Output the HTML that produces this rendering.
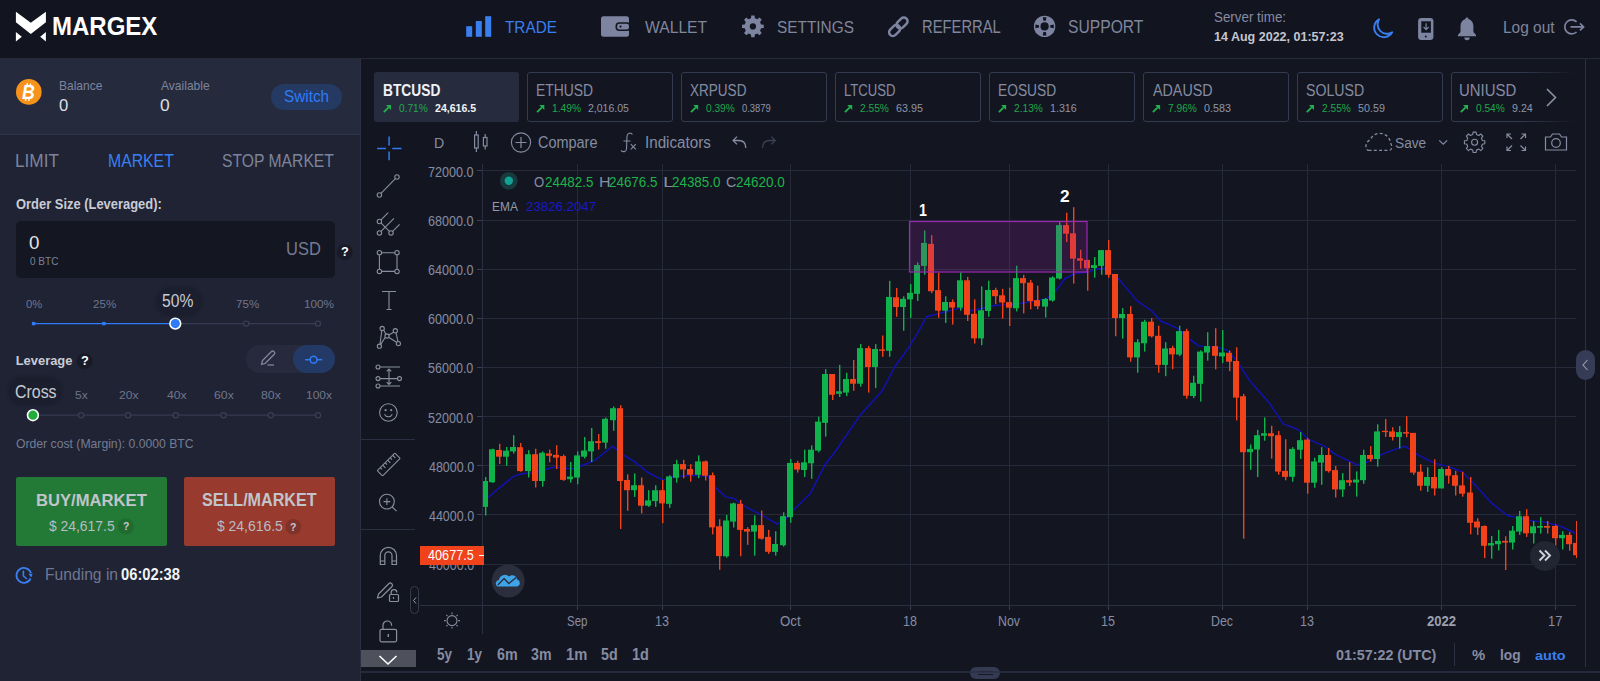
<!DOCTYPE html>
<html><head><meta charset="utf-8"><title>Margex</title><style>
*{margin:0;padding:0;box-sizing:border-box}
html,body{width:1600px;height:681px;overflow:hidden;background:#131621;font-family:"Liberation Sans",Arial,sans-serif}
.a{position:absolute}
.t{position:absolute;white-space:nowrap;line-height:1;transform-origin:0 0}
svg{position:absolute;left:0;top:0}
</style></head><body>
<div class="a" style="left:0px;top:0px;width:1600px;height:58px;background:#121420;"></div><div class="a" style="left:0px;top:58px;width:1600px;height:1px;background:#252a3b;"></div><div class="a" style="left:0px;top:59px;width:360px;height:75px;background:#252a3c;"></div><div class="a" style="left:0px;top:134px;width:360px;height:1px;background:#30364a;"></div><div class="a" style="left:0px;top:135px;width:360px;height:546px;background:#1f2334;"></div><div class="a" style="left:360px;top:59px;width:1px;height:622px;background:#2a2f42;"></div><div class="a" style="left:361px;top:59px;width:1239px;height:622px;background:#131621;"></div><div class="a" style="left:271.4px;top:83.5px;width:70.6px;height:26.4px;border-radius:13.2px;background:#243a63"></div><div class="a" style="left:16px;top:220.5px;width:319px;height:57.5px;border-radius:5px;background:#141621"></div><div class="a" style="left:157px;top:287.5px;width:44px;height:27px;border-radius:13.5px;background:#1b1e2d;box-shadow:0 0 3px 1px #1b1e2d"></div><div class="a" style="left:246.2px;top:344.9px;width:88.7px;height:28.2px;border-radius:14.1px;background:#262a3c"></div><div class="a" style="left:292.8px;top:344.9px;width:42.1px;height:28.2px;border-radius:14.1px;background:#243a66"></div><div class="a" style="left:9px;top:378px;width:52px;height:26px;border-radius:13px;background:#1b1e2d;box-shadow:0 0 3px 1px #1b1e2d"></div><div class="a" style="left:16.2px;top:477.2px;width:150.5px;height:68.7px;border-radius:2px;background:#237a36"></div><div class="a" style="left:183.8px;top:477.4px;width:151.2px;height:68.7px;border-radius:2px;background:#983a2d"></div><div class="a" style="left:374px;top:72px;width:145px;height:50px;border-radius:3px;background:#262b3e"></div><div class="a" style="left:526.8px;top:71.8px;width:146px;height:50.7px;border-radius:3px;border:1px solid #343a4f;background:#131621"></div><div class="a" style="left:680.75px;top:71.8px;width:146px;height:50.7px;border-radius:3px;border:1px solid #343a4f;background:#131621"></div><div class="a" style="left:834.6999999999999px;top:71.8px;width:146px;height:50.7px;border-radius:3px;border:1px solid #343a4f;background:#131621"></div><div class="a" style="left:988.6499999999999px;top:71.8px;width:146px;height:50.7px;border-radius:3px;border:1px solid #343a4f;background:#131621"></div><div class="a" style="left:1142.6px;top:71.8px;width:146px;height:50.7px;border-radius:3px;border:1px solid #343a4f;background:#131621"></div><div class="a" style="left:1296.55px;top:71.8px;width:146px;height:50.7px;border-radius:3px;border:1px solid #343a4f;background:#131621"></div><div class="a" style="left:1450.5px;top:71.8px;width:132px;height:50.7px;border-radius:3px;border:1px solid #343a4f;background:#131621"></div><div class="a" style="left:1520px;top:66px;width:65px;height:60px;background:linear-gradient(90deg,rgba(19,22,33,0),#131621 85%)"></div><div class="a" style="left:1585px;top:59px;width:1px;height:608px;background:#2a2f42;"></div><div class="a" style="left:361px;top:439px;width:54px;height:1px;background:#2a2f42;"></div><div class="a" style="left:361px;top:529px;width:54px;height:1px;background:#2a2f42;"></div><div class="a" style="left:361px;top:649.7px;width:54.8px;height:17.1px;background:#4e515c;"></div><div class="a" style="left:410px;top:586px;width:9px;height:28px;border-radius:4.5px;border:1px solid #363b4c"></div><div class="a" style="left:1454px;top:643px;width:1px;height:23px;background:#2b3043;"></div><div class="a" style="left:1575.5px;top:350px;width:19px;height:30px;border-radius:9.5px;background:#363c55"></div><div class="a" style="left:970px;top:666.6px;width:30.3px;height:12.2px;border-radius:6px;background:#333a52"></div><div class="a" style="left:978px;top:670.5px;width:15px;height:1.3px;background:#151826;"></div><div class="a" style="left:978px;top:673.8px;width:15px;height:1.3px;background:#151826;"></div>
<svg width="1600" height="681" viewBox="0 0 1600 681"><defs><radialGradient id="sh"><stop offset="0" stop-color="#181b29" stop-opacity="1"/><stop offset="0.6" stop-color="#181b29" stop-opacity="0.8"/><stop offset="1" stop-color="#181b29" stop-opacity="0"/></radialGradient></defs><polygon points="15.9,11.7 30.8,22.8 45.9,11.7 45.9,22.3 30.8,34 15.9,22.3" fill="#fff"/><polygon points="15.9,31.9 21.8,36.7 15.9,41.4" fill="#fff"/><polygon points="45.9,31.9 40.2,36.7 45.9,41.4" fill="#fff"/><rect x="466.2" y="26.2" width="6" height="10.6" fill="#3a7ff0"/><rect x="475.8" y="21" width="6" height="15.8" fill="#3a7ff0"/><rect x="485.2" y="16.2" width="6" height="20.6" fill="#3a7ff0"/><rect x="601" y="16.2" width="28" height="20.6" rx="2.5" fill="#7d849f"/><rect x="616.3" y="23" width="13.5" height="7.3" rx="3" fill="#7d849f" stroke="#121420" stroke-width="1.6"/><circle cx="620.5" cy="26.6" r="1.1" fill="#121420"/><polygon points="751.26,15.52 754.54,15.52 754.86,18.23 757.29,19.24 759.44,17.55 761.75,19.86 760.06,22.01 761.07,24.44 763.78,24.76 763.78,28.04 761.07,28.36 760.06,30.79 761.75,32.94 759.44,35.25 757.29,33.56 754.86,34.57 754.54,37.28 751.26,37.28 750.94,34.57 748.51,33.56 746.36,35.25 744.05,32.94 745.74,30.79 744.73,28.36 742.02,28.04 742.02,24.76 744.73,24.44 745.74,22.01 744.05,19.86 746.36,17.55 748.51,19.24 750.94,18.23" fill="#7d849f" stroke-linejoin="round"/><circle cx="752.9" cy="26.4" r="3.1" fill="#121420"/><g transform="rotate(-45 898.4 26.7)" fill="none" stroke="#7d849f" stroke-width="2.5"><rect x="897.3" y="22.95" width="12.5" height="7.5" rx="3.75"/><rect x="886.8" y="22.95" width="12.5" height="7.5" rx="3.75"/></g><circle cx="1044.6" cy="26.4" r="10.7" fill="#7d849f"/><circle cx="1044.6" cy="26.4" r="4.1" fill="#121420"/><polygon points="1046.50,17.20 1042.70,17.20 1043.40,20.80 1045.80,20.80" fill="#121420"/><polygon points="1053.80,28.30 1053.80,24.50 1050.20,25.20 1050.20,27.60" fill="#121420"/><polygon points="1042.70,35.60 1046.50,35.60 1045.80,32.00 1043.40,32.00" fill="#121420"/><polygon points="1035.40,24.50 1035.40,28.30 1039.00,27.60 1039.00,25.20" fill="#121420"/><path d="M1379,19.3 A9.6,9.6 0 1 0 1392.2,32.3 A9.5,9.5 0 0 1 1379,19.3 Z" fill="none" stroke="#3a7ff0" stroke-width="1.9" stroke-linejoin="round"/><rect x="1418.1" y="18.1" width="15.3" height="21.9" rx="3.2" fill="#7d849f"/><rect x="1421.3" y="21.3" width="9.6" height="11.4" fill="#121420"/><circle cx="1425.8" cy="36.4" r="1" fill="#121420"/><path d="M1426.1,23.2 v6 M1423.6,27 l2.5,2.6 l2.5,-2.6" stroke="#7d849f" stroke-width="1.2" fill="none"/><path d="M1467,17.5 c0.9,0 1.4,0.6 1.4,1.4 c3.3,1 5,3.8 5,7.4 v5.6 l2.6,3.2 v1.1 h-18.1 v-1.1 l2.6,-3.2 v-5.6 c0,-3.6 1.7,-6.4 5,-7.4 c0,-0.8 0.5,-1.4 1.5,-1.4 z" fill="#7d849f"/><path d="M1464.3,37.6 a2.7,2.7 0 0 0 5.4,0 z" fill="#7d849f"/><path d="M1576.6,21.8 A7,7 0 1 0 1576.6,32" fill="none" stroke="#7d849f" stroke-width="1.7"/><path d="M1570.5,26.9 h13 M1580,23.4 l3.6,3.5 l-3.6,3.5" fill="none" stroke="#7d849f" stroke-width="1.7"/><circle cx="28.8" cy="91.9" r="12.8" fill="#f7931a"/><path d="M27.4,83.2 l-0.5,2.6 M30.6,83.6 l-0.5,2.4 M26,98.2 l-0.5,2.6 M29.2,98.4 l-0.5,2.4" stroke="#fff" stroke-width="1.4"/><circle cx="344.7" cy="252.2" r="8" fill="#181b27"/><line x1="181" y1="323.6" x2="318" y2="323.6" stroke="#363b51" stroke-width="1.3"/><line x1="33.6" y1="323.6" x2="175" y2="323.6" stroke="#2f7bf7" stroke-width="1.3"/><rect x="31.9" y="321.9" width="3.4" height="3.4" fill="#2f7bf7"/><rect x="102.2" y="321.9" width="3.4" height="3.4" fill="#2f7bf7"/><circle cx="246.2" cy="323.6" r="2.6" fill="#1f2334" stroke="#3a3f55" stroke-width="1.2"/><circle cx="317.9" cy="323.6" r="2.6" fill="#1f2334" stroke="#3a3f55" stroke-width="1.2"/><circle cx="175.3" cy="323.6" r="5.4" fill="#2f7bf7" stroke="#ffffff" stroke-width="1.6"/><circle cx="84.6" cy="361.1" r="8" fill="#181b27"/><path d="M261.5,364.5 l1,-4 l9,-9 a1.5,1.5 0 0 1 2.2,0 l0.6,0.6 a1.5,1.5 0 0 1 0,2.2 l-9,9 z" fill="none" stroke="#80869c" stroke-width="1.3" stroke-linejoin="round"/><line x1="267.5" y1="365" x2="274" y2="365" stroke="#80869c" stroke-width="1.3"/><line x1="305.1" y1="359.7" x2="322.2" y2="359.7" stroke="#2f7bf7" stroke-width="1.5"/><circle cx="313.6" cy="359.7" r="3.4" fill="#243a66" stroke="#2f7bf7" stroke-width="1.5"/><line x1="33" y1="415.2" x2="318" y2="415.2" stroke="#363b51" stroke-width="1.3"/><circle cx="81.1" cy="415.2" r="2.6" fill="#1f2334" stroke="#3a3f55" stroke-width="1.2"/><circle cx="128.1" cy="415.2" r="2.6" fill="#1f2334" stroke="#3a3f55" stroke-width="1.2"/><circle cx="175.7" cy="415.2" r="2.6" fill="#1f2334" stroke="#3a3f55" stroke-width="1.2"/><circle cx="223.5" cy="415.2" r="2.6" fill="#1f2334" stroke="#3a3f55" stroke-width="1.2"/><circle cx="270.8" cy="415.2" r="2.6" fill="#1f2334" stroke="#3a3f55" stroke-width="1.2"/><circle cx="318" cy="415.2" r="2.6" fill="#1f2334" stroke="#3a3f55" stroke-width="1.2"/><circle cx="32.9" cy="415.2" r="5.4" fill="#21ac3c" stroke="#ffffff" stroke-width="1.6"/><circle cx="125.9" cy="526.5" r="8" fill="#1f6b30"/><circle cx="293.4" cy="526.7" r="7.8" fill="#7f3227"/><path d="M30.6,578.5 A7.4,7.4 0 1 1 30.9,573" fill="none" stroke="#3a7ff0" stroke-width="1.8"/><path d="M23.4,570.5 v5.5 l3.5,3" fill="none" stroke="#3a7ff0" stroke-width="1.6"/><path d="M28.5,573.8 l4.2,0 l-1.6,3.6 z" fill="#3a7ff0"/><path d="M383.8,112.2 l4.8,-4.8" stroke="#22b14c" stroke-width="1.9" fill="none"/><polygon points="386.0,105.1 391.0,105.1 391.0,110.1" fill="#22b14c"/><path d="M537.1,112.2 l4.8,-4.8" stroke="#22b14c" stroke-width="1.9" fill="none"/><polygon points="539.3,105.1 544.3,105.1 544.3,110.1" fill="#22b14c"/><path d="M691.0,112.2 l4.8,-4.8" stroke="#22b14c" stroke-width="1.9" fill="none"/><polygon points="693.2,105.1 698.2,105.1 698.2,110.1" fill="#22b14c"/><path d="M845.0,112.2 l4.8,-4.8" stroke="#22b14c" stroke-width="1.9" fill="none"/><polygon points="847.2,105.1 852.2,105.1 852.2,110.1" fill="#22b14c"/><path d="M998.9,112.2 l4.8,-4.8" stroke="#22b14c" stroke-width="1.9" fill="none"/><polygon points="1001.1,105.1 1006.1,105.1 1006.1,110.1" fill="#22b14c"/><path d="M1152.9,112.2 l4.8,-4.8" stroke="#22b14c" stroke-width="1.9" fill="none"/><polygon points="1155.1,105.1 1160.1,105.1 1160.1,110.1" fill="#22b14c"/><path d="M1306.8,112.2 l4.8,-4.8" stroke="#22b14c" stroke-width="1.9" fill="none"/><polygon points="1309.0,105.1 1314.0,105.1 1314.0,110.1" fill="#22b14c"/><path d="M1460.8,112.2 l4.8,-4.8" stroke="#22b14c" stroke-width="1.9" fill="none"/><polygon points="1463.0,105.1 1468.0,105.1 1468.0,110.1" fill="#22b14c"/><path d="M1547,89 l8.5,8.5 l-8.5,8.5" stroke="#8a90a5" stroke-width="1.6" fill="none"/><g stroke="#868ca2" stroke-width="1.2" fill="none"><rect x="474.6" y="135" width="3.6" height="13"/><line x1="476.4" y1="131" x2="476.4" y2="135"/><line x1="476.4" y1="148" x2="476.4" y2="152"/><rect x="483.4" y="137.5" width="3.6" height="8.5"/><line x1="485.2" y1="134" x2="485.2" y2="137.5"/><line x1="485.2" y1="146" x2="485.2" y2="149.5"/></g><circle cx="521" cy="142.5" r="9.6" fill="none" stroke="#868ca2" stroke-width="1.1"/><path d="M521,137 v11 M515.5,142.5 h11" stroke="#868ca2" stroke-width="1.2"/><path d="M632.5,134.5 c-1.5,-2 -5,-2 -5.5,1.5 l-0.5,13 c-0.3,3 -3.5,3.5 -5.5,1.3 M623.5,141 h7" stroke="#868ca2" stroke-width="1.1" fill="none"/><path d="M630.8,144.2 l5,5.2 M635.8,144.2 l-5,5.2" stroke="#868ca2" stroke-width="1.1"/><path d="M745.8,148 c0,-5 -2.5,-7.5 -7,-7.5 h-5.5 M737,136.6 l-3.9,3.9 l3.9,3.9" stroke="#868ca2" stroke-width="1.3" fill="none"/><path d="M762.5,148 c0,-5 2.5,-7.5 7,-7.5 h5.5 M771.3,136.6 l3.9,3.9 l-3.9,3.9" stroke="#3c4152" stroke-width="1.3" fill="none"/><path d="M1368.5,150.3 L1389.5,150.3 C1392,150.3 1392.5,146 1390.6,143.2 C1389.8,137 1385,133.3 1379.5,133.3 C1375,133.3 1372,136 1370.5,139.5 C1367.5,141 1365.6,144 1366,147 C1366.3,149 1367.3,150.3 1368.5,150.3 Z" fill="none" stroke="#868ca2" stroke-width="1.3" stroke-dasharray="3,2.3"/><path d="M1439.2,140.4 l4,3.7 l4,-3.7" stroke="#868ca2" stroke-width="1.2" fill="none"/><polygon points="1473.07,132.11 1476.13,132.11 1476.47,134.52 1478.78,135.48 1480.72,134.01 1482.89,136.18 1481.42,138.12 1482.38,140.43 1484.79,140.77 1484.79,143.83 1482.38,144.17 1481.42,146.48 1482.89,148.42 1480.72,150.59 1478.78,149.12 1476.47,150.08 1476.13,152.49 1473.07,152.49 1472.73,150.08 1470.42,149.12 1468.48,150.59 1466.31,148.42 1467.78,146.48 1466.82,144.17 1464.41,143.83 1464.41,140.77 1466.82,140.43 1467.78,138.12 1466.31,136.18 1468.48,134.01 1470.42,135.48 1472.73,134.52" fill="none" stroke="#868ca2" stroke-width="1.1" stroke-linejoin="round"/><circle cx="1474.6" cy="142.3" r="0" fill="#131621"/><circle cx="1474.6" cy="142.3" r="3" fill="none" stroke="#868ca2" stroke-width="1.1"/><g stroke="#868ca2" stroke-width="1.2" fill="none"><path d="M1507,134 l5,5 M1507,138 v-4 h4"/><path d="M1525.5,134 l-5,5 M1525.5,138 v-4 h-4"/><path d="M1507,150.5 l5,-5 M1507,146.5 v4 h4"/><path d="M1525.5,150.5 l-5,-5 M1525.5,146.5 v4 h-4"/></g><g stroke="#868ca2" stroke-width="1.2" fill="none"><path d="M1545.5,137 h5 l2,-3 h7 l2,3 h5 v13 h-21 z"/><circle cx="1556" cy="143" r="4.3"/></g><g stroke="#2f7bf7" stroke-width="1.5"><line x1="377.1" y1="148.5" x2="386" y2="148.5"/><line x1="392.3" y1="148.5" x2="401.5" y2="148.5"/><line x1="389.1" y1="136.5" x2="389.1" y2="145.5"/><line x1="389.1" y1="151.5" x2="389.1" y2="160.3"/></g><g stroke="#8a8f9f" stroke-width="1.1" fill="none"><circle cx="379.4" cy="195" r="2.2"/><circle cx="397" cy="177" r="2.2"/><line x1="381" y1="193.4" x2="395.4" y2="178.6"/><circle cx="379.4" cy="221.5" r="2.2"/><circle cx="379.4" cy="232.9" r="2.2"/><circle cx="391" cy="232.9" r="2.2"/><path d="M381,219.9 l7.2,-7.2 M381,231.3 l13,-13 M392.6,231.3 l7,-7 M380.9,222.9 l8.5,8.5"/><circle cx="379.4" cy="252.7" r="2.2"/><circle cx="397" cy="252.7" r="2.2"/><circle cx="379.4" cy="271.4" r="2.2"/><circle cx="397" cy="271.4" r="2.2"/><path d="M381.6,252.7 h13.2 M381.6,271.4 h13.2 M379.4,254.9 v14.3 M397,254.9 v14.3"/><path d="M382,291.5 h14 M389,291.5 v18 M386.5,309.5 h5"/><circle cx="382.2" cy="328.5" r="2.1"/><circle cx="395.3" cy="330.7" r="2.1"/><circle cx="387" cy="336" r="2.1"/><circle cx="398.4" cy="343.6" r="2.1"/><circle cx="379.4" cy="346.2" r="2.1"/><path d="M380,344.3 l1.8,-13.7 M383.7,330 l2.2,4.2 M388.7,335 l5,-2.8 M396,332.8 l2,8.8 M396.6,342.2 l-8,-5 M385.3,337.2 l-4.6,7.2"/><circle cx="378" cy="367" r="2"/><circle cx="378" cy="378.6" r="2"/><circle cx="399.5" cy="378.6" r="2"/><circle cx="378" cy="386" r="2"/><path d="M380,367 h20 M380,378.6 h17.5 M380,386 h20 M389,369 v15.5 M386.7,371.3 l2.3,-2.3 l2.3,2.3 M386.7,382.2 l2.3,2.3 l2.3,-2.3"/><circle cx="388.4" cy="412.5" r="8.8"/><path d="M384.5,414.3 a4.3,4.3 0 0 0 7.8,0"/></g><circle cx="385.6" cy="410.2" r="1.1" fill="#8a8f9f"/><circle cx="391.2" cy="410.2" r="1.1" fill="#8a8f9f"/><g stroke="#8a8f9f" stroke-width="1.1" fill="none"><g transform="rotate(-45 388.7 464.5)"><rect x="376.2" y="460.7" width="25" height="7.6" rx="0.8"/><path d="M380.5,460.7 v2.6 M384,460.7 v3.8 M387.5,460.7 v2.6 M391,460.7 v3.8 M394.5,460.7 v2.6 M398,460.7 v3.8"/></g><circle cx="386.9" cy="501.6" r="7.4"/><path d="M392.3,507 l4.2,4.2 M383.5,501.6 h6.8 M386.9,498.2 v6.8"/></g><g stroke="#8a8f9f" stroke-width="1.2" fill="none"><path d="M380.3,564.5 v-9 a8.1,8.1 0 0 1 16.2,0 v9 h-4.5 v-9 a3.6,3.6 0 0 0 -7.2,0 v9 z M380.3,561 h4.5 M392,561 h4.5"/><path d="M377.5,598 l1,-4 l10.5,-10.5 a1.8,1.8 0 0 1 2.5,0 l0.5,0.5 a1.8,1.8 0 0 1 0,2.5 l-10.5,10.5 z"/><rect x="389.5" y="594.5" width="9" height="7" rx="1"/><path d="M391.2,594.5 v-2 a2.8,2.8 0 0 1 5.6,0"/><rect x="380" y="629.3" width="16.6" height="12.5" rx="1.5"/><path d="M383,629.3 v-4 a4.3,4.3 0 0 1 8.6,0 v0.5"/></g><rect x="387.6" y="634" width="1.4" height="3" fill="#8a8f9f"/><rect x="392.9" y="597" width="1.2" height="1.8" fill="#8a8f9f"/><path d="M379.5,656 l8.5,8 l8.5,-8" stroke="#ffffff" stroke-width="1.6" fill="none"/><path d="M416,597.5 l-2.5,3 l2.5,3" stroke="#9aa0b0" stroke-width="1" fill="none"/><line x1="483" y1="170.5" x2="1576" y2="170.5" stroke="#262a3b" stroke-width="1"/><line x1="477" y1="170.5" x2="483" y2="170.5" stroke="#3a3f52" stroke-width="1"/><line x1="483" y1="220.5" x2="1576" y2="220.5" stroke="#262a3b" stroke-width="1"/><line x1="477" y1="220.5" x2="483" y2="220.5" stroke="#3a3f52" stroke-width="1"/><line x1="483" y1="269.5" x2="1576" y2="269.5" stroke="#262a3b" stroke-width="1"/><line x1="477" y1="269.5" x2="483" y2="269.5" stroke="#3a3f52" stroke-width="1"/><line x1="483" y1="318.5" x2="1576" y2="318.5" stroke="#262a3b" stroke-width="1"/><line x1="477" y1="318.5" x2="483" y2="318.5" stroke="#3a3f52" stroke-width="1"/><line x1="483" y1="367.5" x2="1576" y2="367.5" stroke="#262a3b" stroke-width="1"/><line x1="477" y1="367.5" x2="483" y2="367.5" stroke="#3a3f52" stroke-width="1"/><line x1="483" y1="416.5" x2="1576" y2="416.5" stroke="#262a3b" stroke-width="1"/><line x1="477" y1="416.5" x2="483" y2="416.5" stroke="#3a3f52" stroke-width="1"/><line x1="483" y1="465.5" x2="1576" y2="465.5" stroke="#262a3b" stroke-width="1"/><line x1="477" y1="465.5" x2="483" y2="465.5" stroke="#3a3f52" stroke-width="1"/><line x1="483" y1="514.5" x2="1576" y2="514.5" stroke="#262a3b" stroke-width="1"/><line x1="477" y1="514.5" x2="483" y2="514.5" stroke="#3a3f52" stroke-width="1"/><line x1="483" y1="564.5" x2="1576" y2="564.5" stroke="#262a3b" stroke-width="1"/><line x1="477" y1="564.5" x2="483" y2="564.5" stroke="#3a3f52" stroke-width="1"/><line x1="577.5" y1="164" x2="577.5" y2="605" stroke="#262a3b" stroke-width="1"/><line x1="577.5" y1="605" x2="577.5" y2="610" stroke="#3a3f52" stroke-width="1"/><line x1="662.5" y1="164" x2="662.5" y2="605" stroke="#262a3b" stroke-width="1"/><line x1="662.5" y1="605" x2="662.5" y2="610" stroke="#3a3f52" stroke-width="1"/><line x1="790.5" y1="164" x2="790.5" y2="605" stroke="#262a3b" stroke-width="1"/><line x1="790.5" y1="605" x2="790.5" y2="610" stroke="#3a3f52" stroke-width="1"/><line x1="910.5" y1="164" x2="910.5" y2="605" stroke="#262a3b" stroke-width="1"/><line x1="910.5" y1="605" x2="910.5" y2="610" stroke="#3a3f52" stroke-width="1"/><line x1="1009.5" y1="164" x2="1009.5" y2="605" stroke="#262a3b" stroke-width="1"/><line x1="1009.5" y1="605" x2="1009.5" y2="610" stroke="#3a3f52" stroke-width="1"/><line x1="1108.5" y1="164" x2="1108.5" y2="605" stroke="#262a3b" stroke-width="1"/><line x1="1108.5" y1="605" x2="1108.5" y2="610" stroke="#3a3f52" stroke-width="1"/><line x1="1222.5" y1="164" x2="1222.5" y2="605" stroke="#262a3b" stroke-width="1"/><line x1="1222.5" y1="605" x2="1222.5" y2="610" stroke="#3a3f52" stroke-width="1"/><line x1="1307.5" y1="164" x2="1307.5" y2="605" stroke="#262a3b" stroke-width="1"/><line x1="1307.5" y1="605" x2="1307.5" y2="610" stroke="#3a3f52" stroke-width="1"/><line x1="1441.5" y1="164" x2="1441.5" y2="605" stroke="#262a3b" stroke-width="1"/><line x1="1441.5" y1="605" x2="1441.5" y2="610" stroke="#3a3f52" stroke-width="1"/><line x1="1555.5" y1="164" x2="1555.5" y2="605" stroke="#262a3b" stroke-width="1"/><line x1="1555.5" y1="605" x2="1555.5" y2="610" stroke="#3a3f52" stroke-width="1"/><line x1="482.5" y1="164" x2="482.5" y2="634" stroke="#2b3043" stroke-width="1"/><line x1="420" y1="605.5" x2="1576" y2="605.5" stroke="#2b3043" stroke-width="1"/><line x1="361" y1="672" x2="1600" y2="672" stroke="#2b3146" stroke-width="1.5"/><polyline points="487.9,497.2 513.5,476.4 522.3,473.8 538.1,472 554,466.9 571.6,469 582.2,465.5 595,460.2 612.6,446.1 623.2,454.9 633.8,461.1 647.9,472.5 662.8,480.1 672.5,476.9 690.2,475.2 707.8,476.1 715.6,487.6 726.1,497.3 733.2,498.1 747.3,507.8 761.4,514.9 777.2,524.2 786.1,518.4 793.1,510.5 810.7,492.9 825,464.7 836.4,450 859.3,416.3 882.2,390.8 894.6,367 908.7,347.6 919.3,330 926.4,316.8 934.6,314.8 961.3,307.6 971.6,310.7 994.2,305.5 1015.8,304.2 1046.6,299 1054.9,291.8 1065.1,278.5 1075.4,273.3 1087.7,272.3 1095,269.4 1104.4,268.2 1118.5,278.8 1137.3,301.1 1151.4,310.5 1160.8,321 1177.2,328.1 1189,338.6 1198.3,345.7 1203.5,346.4 1215,346.9 1227,350 1236.4,360.5 1250.5,381.7 1269.2,402.8 1283.3,423.9 1290,426.4 1298.8,430 1307.6,438.8 1325.2,446.7 1335.8,454.6 1357,464.8 1365.8,462.6 1385.2,452.9 1399.3,447.9 1405.4,446.2 1417.9,454.9 1433.8,462.9 1447.9,466.4 1462,471.7 1474.3,484 1491.9,503.4 1507.8,515.7 1515.5,517.1 1530,520.4 1545.9,522.4 1559.1,525.7 1575,533" fill="none" stroke="#1111b4" stroke-width="1.45" stroke-linejoin="round"/><defs><clipPath id="pc"><rect x="483" y="160" width="1094" height="446"/></clipPath></defs><g clip-path="url(#pc)"><rect x="485" y="477.0" width="1.4" height="38.5" fill="#10b24b"/><rect x="482" y="481.0" width="6" height="25.9" fill="#10b24b"/><rect x="492" y="448.7" width="1.4" height="34.3" fill="#10b24b"/><rect x="489" y="449.3" width="6" height="32.9" fill="#10b24b"/><rect x="499" y="443.8" width="1.4" height="20.2" fill="#f1421a"/><rect x="496" y="450.0" width="6" height="6.7" fill="#f1421a"/><rect x="506" y="447.0" width="1.4" height="18.8" fill="#10b24b"/><rect x="503" y="450.7" width="6" height="6.0" fill="#10b24b"/><rect x="513" y="435.2" width="1.4" height="18.3" fill="#10b24b"/><rect x="510" y="447.0" width="6" height="4.4" fill="#10b24b"/><rect x="520" y="443.0" width="1.4" height="28.7" fill="#f1421a"/><rect x="517" y="447.2" width="6" height="23.9" fill="#f1421a"/><rect x="528" y="450.2" width="1.4" height="27.3" fill="#10b24b"/><rect x="525" y="454.2" width="6" height="16.9" fill="#10b24b"/><rect x="535" y="448.7" width="1.4" height="38.8" fill="#f1421a"/><rect x="532" y="454.2" width="6" height="26.8" fill="#f1421a"/><rect x="542" y="451.4" width="1.4" height="35.2" fill="#10b24b"/><rect x="539" y="452.8" width="6" height="28.2" fill="#10b24b"/><rect x="549" y="449.6" width="1.4" height="12.7" fill="#f1421a"/><rect x="546" y="453.5" width="6" height="2.3" fill="#f1421a"/><rect x="556" y="445.2" width="1.4" height="23.8" fill="#f1421a"/><rect x="553" y="454.9" width="6" height="2.7" fill="#f1421a"/><rect x="563" y="454.6" width="1.4" height="26.2" fill="#f1421a"/><rect x="560" y="456.1" width="6" height="23.8" fill="#f1421a"/><rect x="570" y="462.0" width="1.4" height="20.6" fill="#10b24b"/><rect x="567" y="476.6" width="6" height="2.6" fill="#10b24b"/><rect x="577" y="451.4" width="1.4" height="32.9" fill="#10b24b"/><rect x="574" y="455.4" width="6" height="22.1" fill="#10b24b"/><rect x="584" y="437.0" width="1.4" height="21.4" fill="#10b24b"/><rect x="581" y="450.5" width="6" height="6.2" fill="#10b24b"/><rect x="591" y="428.0" width="1.4" height="34.0" fill="#10b24b"/><rect x="588" y="441.2" width="6" height="10.2" fill="#10b24b"/><rect x="598" y="434.0" width="1.4" height="15.6" fill="#f1421a"/><rect x="595" y="441.2" width="6" height="1.8" fill="#f1421a"/><rect x="605" y="417.6" width="1.4" height="31.1" fill="#10b24b"/><rect x="602" y="418.8" width="6" height="23.8" fill="#10b24b"/><rect x="613" y="406.5" width="1.4" height="24.3" fill="#10b24b"/><rect x="610" y="408.2" width="6" height="12.0" fill="#10b24b"/><rect x="620" y="405.2" width="1.4" height="123.8" fill="#f1421a"/><rect x="617" y="408.2" width="6" height="72.8" fill="#f1421a"/><rect x="627" y="474.3" width="1.4" height="36.5" fill="#f1421a"/><rect x="624" y="480.0" width="6" height="10.2" fill="#f1421a"/><rect x="634" y="473.4" width="1.4" height="23.5" fill="#10b24b"/><rect x="631" y="485.2" width="6" height="5.0" fill="#10b24b"/><rect x="641" y="477.5" width="1.4" height="36.0" fill="#f1421a"/><rect x="638" y="485.2" width="6" height="20.5" fill="#f1421a"/><rect x="648" y="490.2" width="1.4" height="16.7" fill="#10b24b"/><rect x="645" y="500.4" width="6" height="5.3" fill="#10b24b"/><rect x="655" y="485.2" width="1.4" height="21.7" fill="#10b24b"/><rect x="652" y="490.2" width="6" height="10.9" fill="#10b24b"/><rect x="662" y="480.0" width="1.4" height="43.2" fill="#f1421a"/><rect x="659" y="490.2" width="6" height="13.2" fill="#f1421a"/><rect x="669" y="475.2" width="1.4" height="32.6" fill="#10b24b"/><rect x="666" y="476.4" width="6" height="27.5" fill="#10b24b"/><rect x="676" y="459.8" width="1.4" height="22.8" fill="#10b24b"/><rect x="673" y="464.1" width="6" height="13.7" fill="#10b24b"/><rect x="683" y="459.8" width="1.4" height="18.4" fill="#f1421a"/><rect x="680" y="464.1" width="6" height="5.4" fill="#f1421a"/><rect x="690" y="464.2" width="1.4" height="17.5" fill="#f1421a"/><rect x="687" y="469.0" width="6" height="5.8" fill="#f1421a"/><rect x="698" y="455.4" width="1.4" height="22.8" fill="#10b24b"/><rect x="695" y="461.4" width="6" height="13.4" fill="#10b24b"/><rect x="705" y="460.5" width="1.4" height="20.0" fill="#f1421a"/><rect x="702" y="461.4" width="6" height="14.3" fill="#f1421a"/><rect x="712" y="472.5" width="1.4" height="61.8" fill="#f1421a"/><rect x="709" y="475.2" width="6" height="52.2" fill="#f1421a"/><rect x="719" y="519.3" width="1.4" height="50.5" fill="#f1421a"/><rect x="716" y="526.3" width="6" height="29.8" fill="#f1421a"/><rect x="726" y="514.9" width="1.4" height="42.8" fill="#10b24b"/><rect x="723" y="520.5" width="6" height="35.8" fill="#10b24b"/><rect x="733" y="502.6" width="1.4" height="25.0" fill="#10b24b"/><rect x="730" y="503.4" width="6" height="18.2" fill="#10b24b"/><rect x="740" y="499.9" width="1.4" height="56.3" fill="#f1421a"/><rect x="737" y="503.8" width="6" height="26.1" fill="#f1421a"/><rect x="747" y="527.2" width="1.4" height="17.6" fill="#f1421a"/><rect x="744" y="529.0" width="6" height="2.6" fill="#f1421a"/><rect x="754" y="515.4" width="1.4" height="40.2" fill="#10b24b"/><rect x="751" y="525.1" width="6" height="6.5" fill="#10b24b"/><rect x="761" y="510.5" width="1.4" height="29.1" fill="#f1421a"/><rect x="758" y="525.1" width="6" height="13.6" fill="#f1421a"/><rect x="768" y="529.9" width="1.4" height="24.0" fill="#f1421a"/><rect x="765" y="536.9" width="6" height="14.9" fill="#f1421a"/><rect x="775" y="531.3" width="1.4" height="24.3" fill="#10b24b"/><rect x="772" y="544.0" width="6" height="7.9" fill="#10b24b"/><rect x="783" y="512.2" width="1.4" height="34.4" fill="#10b24b"/><rect x="780" y="516.1" width="6" height="29.1" fill="#10b24b"/><rect x="790" y="459.0" width="1.4" height="63.8" fill="#10b24b"/><rect x="787" y="462.9" width="6" height="54.3" fill="#10b24b"/><rect x="797" y="460.8" width="1.4" height="11.8" fill="#f1421a"/><rect x="794" y="462.9" width="6" height="6.7" fill="#f1421a"/><rect x="804" y="449.7" width="1.4" height="27.3" fill="#10b24b"/><rect x="801" y="462.4" width="6" height="7.6" fill="#10b24b"/><rect x="811" y="445.3" width="1.4" height="33.5" fill="#10b24b"/><rect x="808" y="449.7" width="6" height="13.6" fill="#10b24b"/><rect x="818" y="416.7" width="1.4" height="35.6" fill="#10b24b"/><rect x="815" y="421.6" width="6" height="29.0" fill="#10b24b"/><rect x="825" y="369.1" width="1.4" height="67.5" fill="#10b24b"/><rect x="822" y="374.0" width="6" height="48.9" fill="#10b24b"/><rect x="832" y="374.0" width="1.4" height="26.0" fill="#f1421a"/><rect x="829" y="374.0" width="6" height="20.8" fill="#f1421a"/><rect x="839" y="364.9" width="1.4" height="32.1" fill="#10b24b"/><rect x="836" y="391.3" width="6" height="2.5" fill="#10b24b"/><rect x="846" y="372.8" width="1.4" height="23.3" fill="#10b24b"/><rect x="843" y="379.0" width="6" height="13.6" fill="#10b24b"/><rect x="853" y="360.0" width="1.4" height="30.8" fill="#f1421a"/><rect x="850" y="379.0" width="6" height="4.7" fill="#f1421a"/><rect x="860" y="344.1" width="1.4" height="42.6" fill="#10b24b"/><rect x="857" y="348.1" width="6" height="35.6" fill="#10b24b"/><rect x="868" y="345.9" width="1.4" height="46.7" fill="#f1421a"/><rect x="865" y="348.1" width="6" height="18.9" fill="#f1421a"/><rect x="875" y="344.1" width="1.4" height="44.0" fill="#10b24b"/><rect x="872" y="349.0" width="6" height="18.0" fill="#10b24b"/><rect x="882" y="335.5" width="1.4" height="21.3" fill="#f1421a"/><rect x="879" y="349.4" width="6" height="1.4" fill="#f1421a"/><rect x="889" y="280.9" width="1.4" height="75.9" fill="#10b24b"/><rect x="886" y="296.9" width="6" height="53.9" fill="#10b24b"/><rect x="896" y="288.0" width="1.4" height="28.8" fill="#f1421a"/><rect x="893" y="297.3" width="6" height="9.7" fill="#f1421a"/><rect x="903" y="296.3" width="1.4" height="34.5" fill="#10b24b"/><rect x="900" y="298.8" width="6" height="8.2" fill="#10b24b"/><rect x="910" y="284.0" width="1.4" height="33.9" fill="#10b24b"/><rect x="907" y="292.8" width="6" height="6.6" fill="#10b24b"/><rect x="917" y="262.4" width="1.4" height="38.6" fill="#10b24b"/><rect x="914" y="265.0" width="6" height="28.8" fill="#10b24b"/><rect x="924" y="230.5" width="1.4" height="44.2" fill="#10b24b"/><rect x="921" y="242.9" width="6" height="23.0" fill="#10b24b"/><rect x="931" y="235.1" width="1.4" height="58.1" fill="#f1421a"/><rect x="928" y="243.9" width="6" height="47.3" fill="#f1421a"/><rect x="938" y="272.7" width="1.4" height="45.2" fill="#f1421a"/><rect x="935" y="290.1" width="6" height="20.6" fill="#f1421a"/><rect x="945" y="296.3" width="1.4" height="26.7" fill="#10b24b"/><rect x="942" y="302.0" width="6" height="8.7" fill="#10b24b"/><rect x="952" y="299.4" width="1.4" height="25.2" fill="#f1421a"/><rect x="949" y="302.0" width="6" height="5.6" fill="#f1421a"/><rect x="960" y="272.3" width="1.4" height="38.4" fill="#10b24b"/><rect x="957" y="280.3" width="6" height="27.3" fill="#10b24b"/><rect x="967" y="276.8" width="1.4" height="44.2" fill="#f1421a"/><rect x="964" y="280.3" width="6" height="34.5" fill="#f1421a"/><rect x="974" y="299.4" width="1.4" height="44.1" fill="#f1421a"/><rect x="971" y="313.8" width="6" height="24.6" fill="#f1421a"/><rect x="981" y="286.4" width="1.4" height="58.8" fill="#10b24b"/><rect x="978" y="310.3" width="6" height="28.1" fill="#10b24b"/><rect x="988" y="280.7" width="1.4" height="36.0" fill="#10b24b"/><rect x="985" y="290.0" width="6" height="21.0" fill="#10b24b"/><rect x="995" y="287.7" width="1.4" height="16.5" fill="#f1421a"/><rect x="992" y="290.0" width="6" height="6.2" fill="#f1421a"/><rect x="1002" y="288.8" width="1.4" height="29.8" fill="#f1421a"/><rect x="999" y="295.3" width="6" height="7.2" fill="#f1421a"/><rect x="1009" y="287.7" width="1.4" height="38.3" fill="#f1421a"/><rect x="1006" y="302.1" width="6" height="5.6" fill="#f1421a"/><rect x="1016" y="265.7" width="1.4" height="45.7" fill="#10b24b"/><rect x="1013" y="278.1" width="6" height="30.2" fill="#10b24b"/><rect x="1023" y="274.8" width="1.4" height="38.6" fill="#f1421a"/><rect x="1020" y="278.1" width="6" height="5.1" fill="#f1421a"/><rect x="1030" y="279.9" width="1.4" height="29.4" fill="#f1421a"/><rect x="1027" y="282.6" width="6" height="18.5" fill="#f1421a"/><rect x="1037" y="285.7" width="1.4" height="23.6" fill="#f1421a"/><rect x="1034" y="300.1" width="6" height="6.1" fill="#f1421a"/><rect x="1045" y="298.0" width="1.4" height="19.5" fill="#10b24b"/><rect x="1042" y="299.0" width="6" height="7.6" fill="#10b24b"/><rect x="1052" y="276.4" width="1.4" height="25.3" fill="#10b24b"/><rect x="1049" y="277.5" width="6" height="23.0" fill="#10b24b"/><rect x="1059" y="222.0" width="1.4" height="57.5" fill="#10b24b"/><rect x="1056" y="225.1" width="6" height="53.4" fill="#10b24b"/><rect x="1066" y="212.7" width="1.4" height="29.4" fill="#f1421a"/><rect x="1063" y="225.1" width="6" height="8.6" fill="#f1421a"/><rect x="1073" y="207.2" width="1.4" height="76.4" fill="#f1421a"/><rect x="1070" y="233.3" width="6" height="25.3" fill="#f1421a"/><rect x="1080" y="249.7" width="1.4" height="19.0" fill="#f1421a"/><rect x="1077" y="258.3" width="6" height="2.4" fill="#f1421a"/><rect x="1087" y="259.9" width="1.4" height="30.9" fill="#f1421a"/><rect x="1084" y="259.9" width="6" height="8.3" fill="#f1421a"/><rect x="1094" y="257.0" width="1.4" height="20.7" fill="#10b24b"/><rect x="1091" y="265.1" width="6" height="2.9" fill="#10b24b"/><rect x="1101" y="250.1" width="1.4" height="24.7" fill="#10b24b"/><rect x="1098" y="250.1" width="6" height="15.8" fill="#10b24b"/><rect x="1108" y="240.0" width="1.4" height="37.8" fill="#f1421a"/><rect x="1105" y="250.1" width="6" height="24.7" fill="#f1421a"/><rect x="1115" y="274.0" width="1.4" height="62.3" fill="#f1421a"/><rect x="1112" y="274.0" width="6" height="44.0" fill="#f1421a"/><rect x="1122" y="308.1" width="1.4" height="30.5" fill="#10b24b"/><rect x="1119" y="314.0" width="6" height="4.0" fill="#10b24b"/><rect x="1130" y="306.2" width="1.4" height="55.5" fill="#f1421a"/><rect x="1127" y="314.0" width="6" height="43.4" fill="#f1421a"/><rect x="1137" y="339.1" width="1.4" height="33.6" fill="#10b24b"/><rect x="1134" y="342.2" width="6" height="15.2" fill="#10b24b"/><rect x="1144" y="319.8" width="1.4" height="31.8" fill="#10b24b"/><rect x="1141" y="321.7" width="6" height="21.6" fill="#10b24b"/><rect x="1151" y="318.0" width="1.4" height="19.5" fill="#f1421a"/><rect x="1148" y="321.7" width="6" height="14.6" fill="#f1421a"/><rect x="1158" y="325.7" width="1.4" height="47.0" fill="#f1421a"/><rect x="1155" y="335.8" width="6" height="29.1" fill="#f1421a"/><rect x="1165" y="342.2" width="1.4" height="34.0" fill="#10b24b"/><rect x="1162" y="348.5" width="6" height="16.4" fill="#10b24b"/><rect x="1172" y="345.7" width="1.4" height="23.5" fill="#f1421a"/><rect x="1169" y="348.0" width="6" height="6.4" fill="#f1421a"/><rect x="1179" y="325.7" width="1.4" height="30.5" fill="#10b24b"/><rect x="1176" y="331.1" width="6" height="23.5" fill="#10b24b"/><rect x="1186" y="328.8" width="1.4" height="69.9" fill="#f1421a"/><rect x="1183" y="331.1" width="6" height="64.6" fill="#f1421a"/><rect x="1193" y="375.7" width="1.4" height="22.4" fill="#10b24b"/><rect x="1190" y="382.8" width="6" height="13.2" fill="#10b24b"/><rect x="1200" y="350.4" width="1.4" height="51.2" fill="#10b24b"/><rect x="1197" y="351.6" width="6" height="32.2" fill="#10b24b"/><rect x="1207" y="332.2" width="1.4" height="28.5" fill="#10b24b"/><rect x="1204" y="346.1" width="6" height="6.4" fill="#10b24b"/><rect x="1215" y="328.2" width="1.4" height="41.1" fill="#f1421a"/><rect x="1212" y="346.1" width="6" height="9.7" fill="#f1421a"/><rect x="1222" y="330.0" width="1.4" height="32.9" fill="#10b24b"/><rect x="1219" y="352.5" width="6" height="3.9" fill="#10b24b"/><rect x="1229" y="350.5" width="1.4" height="20.6" fill="#f1421a"/><rect x="1226" y="352.8" width="6" height="8.9" fill="#f1421a"/><rect x="1236" y="347.3" width="1.4" height="73.1" fill="#f1421a"/><rect x="1233" y="361.0" width="6" height="36.6" fill="#f1421a"/><rect x="1243" y="393.9" width="1.4" height="144.8" fill="#f1421a"/><rect x="1240" y="396.2" width="6" height="56.0" fill="#f1421a"/><rect x="1250" y="444.5" width="1.4" height="25.4" fill="#10b24b"/><rect x="1247" y="448.9" width="6" height="3.3" fill="#10b24b"/><rect x="1257" y="429.8" width="1.4" height="47.2" fill="#10b24b"/><rect x="1254" y="435.2" width="6" height="14.3" fill="#10b24b"/><rect x="1264" y="417.4" width="1.4" height="23.3" fill="#10b24b"/><rect x="1261" y="433.3" width="6" height="2.4" fill="#10b24b"/><rect x="1271" y="425.8" width="1.4" height="32.8" fill="#f1421a"/><rect x="1268" y="433.3" width="6" height="2.9" fill="#f1421a"/><rect x="1278" y="431.0" width="1.4" height="43.7" fill="#f1421a"/><rect x="1275" y="435.2" width="6" height="36.4" fill="#f1421a"/><rect x="1285" y="439.2" width="1.4" height="41.1" fill="#f1421a"/><rect x="1282" y="470.9" width="6" height="6.0" fill="#f1421a"/><rect x="1292" y="447.2" width="1.4" height="34.5" fill="#10b24b"/><rect x="1289" y="448.9" width="6" height="27.9" fill="#10b24b"/><rect x="1300" y="432.1" width="1.4" height="26.9" fill="#10b24b"/><rect x="1297" y="440.2" width="6" height="9.5" fill="#10b24b"/><rect x="1307" y="437.9" width="1.4" height="55.8" fill="#f1421a"/><rect x="1304" y="439.6" width="6" height="43.1" fill="#f1421a"/><rect x="1314" y="457.7" width="1.4" height="30.0" fill="#10b24b"/><rect x="1311" y="461.4" width="6" height="21.3" fill="#10b24b"/><rect x="1321" y="447.1" width="1.4" height="37.7" fill="#10b24b"/><rect x="1318" y="455.0" width="6" height="7.6" fill="#10b24b"/><rect x="1328" y="447.9" width="1.4" height="24.7" fill="#f1421a"/><rect x="1325" y="455.0" width="6" height="16.1" fill="#f1421a"/><rect x="1335" y="466.1" width="1.4" height="31.4" fill="#f1421a"/><rect x="1332" y="470.1" width="6" height="19.3" fill="#f1421a"/><rect x="1342" y="473.1" width="1.4" height="23.8" fill="#10b24b"/><rect x="1339" y="480.2" width="6" height="9.3" fill="#10b24b"/><rect x="1349" y="462.0" width="1.4" height="24.0" fill="#f1421a"/><rect x="1346" y="480.2" width="6" height="2.3" fill="#f1421a"/><rect x="1356" y="471.4" width="1.4" height="25.2" fill="#10b24b"/><rect x="1353" y="479.6" width="6" height="2.9" fill="#10b24b"/><rect x="1363" y="449.7" width="1.4" height="34.0" fill="#10b24b"/><rect x="1360" y="455.0" width="6" height="25.2" fill="#10b24b"/><rect x="1370" y="446.2" width="1.4" height="15.5" fill="#f1421a"/><rect x="1367" y="455.0" width="6" height="4.0" fill="#f1421a"/><rect x="1377" y="424.3" width="1.4" height="42.3" fill="#10b24b"/><rect x="1374" y="431.4" width="6" height="27.6" fill="#10b24b"/><rect x="1385" y="419.0" width="1.4" height="18.0" fill="#f1421a"/><rect x="1382" y="430.8" width="6" height="1.3" fill="#f1421a"/><rect x="1392" y="427.3" width="1.4" height="13.2" fill="#f1421a"/><rect x="1389" y="431.4" width="6" height="5.6" fill="#f1421a"/><rect x="1399" y="426.1" width="1.4" height="22.4" fill="#10b24b"/><rect x="1396" y="432.1" width="6" height="4.9" fill="#10b24b"/><rect x="1406" y="416.2" width="1.4" height="21.0" fill="#f1421a"/><rect x="1403" y="432.1" width="6" height="1.5" fill="#f1421a"/><rect x="1413" y="432.9" width="1.4" height="41.9" fill="#f1421a"/><rect x="1410" y="432.9" width="6" height="39.7" fill="#f1421a"/><rect x="1420" y="464.3" width="1.4" height="26.4" fill="#f1421a"/><rect x="1417" y="471.7" width="6" height="14.1" fill="#f1421a"/><rect x="1427" y="467.3" width="1.4" height="24.6" fill="#10b24b"/><rect x="1424" y="477.0" width="6" height="8.8" fill="#10b24b"/><rect x="1434" y="459.3" width="1.4" height="36.2" fill="#f1421a"/><rect x="1431" y="477.0" width="6" height="11.4" fill="#f1421a"/><rect x="1441" y="467.3" width="1.4" height="21.1" fill="#10b24b"/><rect x="1438" y="469.0" width="6" height="19.4" fill="#10b24b"/><rect x="1448" y="466.0" width="1.4" height="17.7" fill="#f1421a"/><rect x="1445" y="469.0" width="6" height="6.6" fill="#f1421a"/><rect x="1455" y="470.8" width="1.4" height="24.7" fill="#f1421a"/><rect x="1452" y="475.2" width="6" height="10.6" fill="#f1421a"/><rect x="1462" y="471.7" width="1.4" height="25.0" fill="#f1421a"/><rect x="1459" y="485.4" width="6" height="8.3" fill="#f1421a"/><rect x="1470" y="477.0" width="1.4" height="57.3" fill="#f1421a"/><rect x="1467" y="492.5" width="6" height="30.3" fill="#f1421a"/><rect x="1477" y="518.2" width="1.4" height="16.7" fill="#f1421a"/><rect x="1474" y="521.5" width="6" height="6.0" fill="#f1421a"/><rect x="1484" y="525.4" width="1.4" height="32.7" fill="#f1421a"/><rect x="1481" y="526.0" width="6" height="19.8" fill="#f1421a"/><rect x="1491" y="536.0" width="1.4" height="22.7" fill="#10b24b"/><rect x="1488" y="543.1" width="6" height="2.4" fill="#10b24b"/><rect x="1498" y="529.9" width="1.4" height="20.6" fill="#10b24b"/><rect x="1495" y="540.9" width="6" height="3.3" fill="#10b24b"/><rect x="1505" y="536.3" width="1.4" height="33.7" fill="#f1421a"/><rect x="1502" y="540.9" width="6" height="1.7" fill="#f1421a"/><rect x="1512" y="526.0" width="1.4" height="23.5" fill="#10b24b"/><rect x="1509" y="530.7" width="6" height="11.9" fill="#10b24b"/><rect x="1519" y="510.9" width="1.4" height="24.0" fill="#10b24b"/><rect x="1516" y="516.2" width="6" height="15.4" fill="#10b24b"/><rect x="1526" y="509.2" width="1.4" height="27.7" fill="#f1421a"/><rect x="1523" y="516.2" width="6" height="17.1" fill="#f1421a"/><rect x="1533" y="521.0" width="1.4" height="22.5" fill="#10b24b"/><rect x="1530" y="526.3" width="6" height="7.0" fill="#10b24b"/><rect x="1540" y="517.1" width="1.4" height="16.5" fill="#10b24b"/><rect x="1537" y="526.0" width="6" height="1.7" fill="#10b24b"/><rect x="1547" y="521.0" width="1.4" height="12.6" fill="#f1421a"/><rect x="1544" y="526.0" width="6" height="1.7" fill="#f1421a"/><rect x="1555" y="524.6" width="1.4" height="20.9" fill="#f1421a"/><rect x="1552" y="526.0" width="6" height="12.2" fill="#f1421a"/><rect x="1562" y="531.2" width="1.4" height="18.3" fill="#10b24b"/><rect x="1559" y="534.9" width="6" height="3.3" fill="#10b24b"/><rect x="1569" y="532.0" width="1.4" height="18.8" fill="#f1421a"/><rect x="1566" y="534.9" width="6" height="9.3" fill="#f1421a"/><rect x="1576" y="521.0" width="1.4" height="37.1" fill="#f1421a"/><rect x="1573" y="542.9" width="6" height="12.3" fill="#f1421a"/></g><rect x="909.5" y="221.5" width="177.5" height="50.5" fill="rgba(156,39,176,0.2)" stroke="#9c27b0" stroke-width="1.2"/><circle cx="508.8" cy="180.7" r="8.8" fill="#173a3e"/><circle cx="508.8" cy="180.7" r="4.2" fill="#10a293"/><circle cx="452" cy="620.6" r="5" fill="none" stroke="#868ca2" stroke-width="1.1"/><line x1="458.30" y1="620.60" x2="460.00" y2="620.60" stroke="#868ca2" stroke-width="1.1"/><line x1="456.45" y1="625.05" x2="457.66" y2="626.26" stroke="#868ca2" stroke-width="1.1"/><line x1="452.00" y1="626.90" x2="452.00" y2="628.60" stroke="#868ca2" stroke-width="1.1"/><line x1="447.55" y1="625.05" x2="446.34" y2="626.26" stroke="#868ca2" stroke-width="1.1"/><line x1="445.70" y1="620.60" x2="444.00" y2="620.60" stroke="#868ca2" stroke-width="1.1"/><line x1="447.55" y1="616.15" x2="446.34" y2="614.94" stroke="#868ca2" stroke-width="1.1"/><line x1="452.00" y1="614.30" x2="452.00" y2="612.60" stroke="#868ca2" stroke-width="1.1"/><line x1="456.45" y1="616.15" x2="457.66" y2="614.94" stroke="#868ca2" stroke-width="1.1"/><circle cx="508.2" cy="581" r="16.5" fill="#2a2e3d"/><path d="M497.5,586.5 a3.5,3.5 0 0 1 1.5,-6.5 a6,6 0 0 1 10,-3.5 a5,5 0 0 1 8.2,3 a3.6,3.6 0 0 1 -0.2,7 z" fill="#3ea3e8"/><path d="M497.8,585 l6.3,-6.5 l4.7,5 l7.3,-6" stroke="#2a2e3d" stroke-width="1.4" fill="none"/><circle cx="1545" cy="556" r="15" fill="#222633"/><path d="M1539.5,550.5 l5,5 l-5,5 M1545,550.5 l5,5 l-5,5" stroke="#d0d3da" stroke-width="1.9" fill="none"/><path d="M1587.5,360 l-4.5,5 l4.5,5" stroke="#9aa0b4" stroke-width="1.1" fill="none"/></svg>
<span class="t" style="left:52.14px;top:14.00px;font-size:25.60px;color:#ffffff;font-weight:700;transform:scaleX(0.938);">MARGEX</span><span class="t" style="left:505.19px;top:19.00px;font-size:17.10px;color:#3a7ff0;transform:scaleX(0.896);">TRADE</span><span class="t" style="left:644.92px;top:19.00px;font-size:17.10px;color:#80869c;transform:scaleX(0.917);">WALLET</span><span class="t" style="left:776.91px;top:19.00px;font-size:17.10px;color:#80869c;transform:scaleX(0.900);">SETTINGS</span><span class="t" style="left:921.52px;top:19.00px;font-size:17.90px;color:#80869c;transform:scaleX(0.826);">REFERRAL</span><span class="t" style="left:1067.70px;top:19.00px;font-size:17.90px;color:#80869c;transform:scaleX(0.875);">SUPPORT</span><span class="t" style="left:1214.40px;top:11.00px;font-size:13.80px;color:#868ca3;transform:scaleX(0.969);">Server time:</span><span class="t" style="left:1214.25px;top:30.00px;font-size:13.50px;color:#c3c6ce;font-weight:700;transform:scaleX(0.927);">14 Aug 2022, 01:57:23</span><span class="t" style="left:1502.51px;top:20.00px;font-size:15.85px;color:#80869c;transform:scaleX(0.976);">Log out</span><span class="t" style="left:22.45px;top:83.00px;font-size:19.35px;color:#ffffff;font-weight:700;transform:scaleX(0.916);font-style:italic;">B</span><span class="t" style="left:59.04px;top:80.00px;font-size:12.15px;color:#7d849c;transform:scaleX(0.989);">Balance</span><span class="t" style="left:59.08px;top:97.00px;font-size:16.35px;color:#dde0e6;transform:scaleX(1.019);">0</span><span class="t" style="left:160.60px;top:80.00px;font-size:12.15px;color:#7d849c;transform:scaleX(0.993);">Available</span><span class="t" style="left:159.70px;top:97.00px;font-size:16.35px;color:#dde0e6;transform:scaleX(1.064);">0</span><span class="t" style="left:284.11px;top:88.00px;font-size:17.15px;color:#2f7bf7;transform:scaleX(0.893);">Switch</span><span class="t" style="left:14.82px;top:152.00px;font-size:18.60px;color:#7d849a;transform:scaleX(0.926);">LIMIT</span><span class="t" style="left:107.84px;top:152.00px;font-size:18.60px;color:#3a7ff0;transform:scaleX(0.849);">MARKET</span><span class="t" style="left:222.49px;top:152.00px;font-size:18.60px;color:#7d849a;transform:scaleX(0.844);">STOP MARKET</span><span class="t" style="left:15.68px;top:197.00px;font-size:14.40px;color:#c9ccd4;font-weight:700;transform:scaleX(0.898);">Order Size (Leveraged):</span><span class="t" style="left:29.35px;top:235.00px;font-size:17.45px;color:#e3e5ea;transform:scaleX(1.075);">0</span><span class="t" style="left:29.70px;top:256.00px;font-size:11.20px;color:#7b8197;transform:scaleX(0.895);">0 BTC</span><span class="t" style="left:286.16px;top:241.00px;font-size:17.45px;color:#757c93;transform:scaleX(0.945);">USD</span><span class="t" style="left:340.93px;top:245.00px;font-size:13.10px;color:#ffffff;font-weight:700;transform:scaleX(0.974);">?</span><span class="t" style="left:26.15px;top:299.00px;font-size:11.50px;color:#6f768c;transform:scaleX(0.979);">0%</span><span class="t" style="left:93.17px;top:299.00px;font-size:11.50px;color:#6f768c;transform:scaleX(1.007);">25%</span><span class="t" style="left:162.37px;top:293.00px;font-size:17.45px;color:#c8cbd3;transform:scaleX(0.896);">50%</span><span class="t" style="left:235.72px;top:299.00px;font-size:11.50px;color:#6f768c;transform:scaleX(1.010);">75%</span><span class="t" style="left:304.02px;top:299.00px;font-size:11.50px;color:#6f768c;transform:scaleX(1.020);">100%</span><span class="t" style="left:15.66px;top:355.00px;font-size:12.95px;color:#c9ccd4;font-weight:700;">Leverage</span><span class="t" style="left:80.93px;top:355.00px;font-size:12.95px;color:#ffffff;font-weight:700;transform:scaleX(0.985);">?</span><span class="t" style="left:14.80px;top:384.00px;font-size:17.60px;color:#c8cbd3;transform:scaleX(0.905);">Cross</span><span class="t" style="left:75.32px;top:390.00px;font-size:11.50px;color:#6f768c;transform:scaleX(1.040);">5x</span><span class="t" style="left:119.29px;top:390.00px;font-size:11.50px;color:#6f768c;transform:scaleX(1.056);">20x</span><span class="t" style="left:166.66px;top:390.00px;font-size:11.50px;color:#6f768c;transform:scaleX(1.064);">40x</span><span class="t" style="left:214.09px;top:390.00px;font-size:11.50px;color:#6f768c;transform:scaleX(1.068);">60x</span><span class="t" style="left:261.35px;top:390.00px;font-size:11.50px;color:#6f768c;transform:scaleX(1.070);">80x</span><span class="t" style="left:306.00px;top:390.00px;font-size:11.50px;color:#6f768c;transform:scaleX(1.044);">100x</span><span class="t" style="left:16.15px;top:438.00px;font-size:12.80px;color:#757c93;transform:scaleX(0.953);">Order cost (Margin): 0.0000 BTC</span><span class="t" style="left:35.72px;top:492.00px;font-size:17.30px;color:#c1c4cb;font-weight:700;transform:scaleX(0.962);">BUY/MARKET</span><span class="t" style="left:48.96px;top:519.00px;font-size:14.55px;color:#b8bcc4;transform:scaleX(0.954);">$ 24,617.5</span><span class="t" style="left:122.83px;top:521.00px;font-size:10.90px;color:#c6c9cf;font-weight:700;transform:scaleX(0.953);">?</span><span class="t" style="left:201.82px;top:492.00px;font-size:17.90px;color:#c1c4cb;font-weight:700;transform:scaleX(0.900);">SELL/MARKET</span><span class="t" style="left:216.76px;top:518.00px;font-size:15.40px;color:#b8bcc4;transform:scaleX(0.905);">$ 24,616.5</span><span class="t" style="left:290.33px;top:522.00px;font-size:10.90px;color:#c6c9cf;font-weight:700;transform:scaleX(0.953);">?</span><span class="t" style="left:45.35px;top:566.00px;font-size:16.30px;color:#6f7790;transform:scaleX(0.961);">Funding in</span><span class="t" style="left:121.31px;top:567.00px;font-size:16.85px;color:#f2f3f5;font-weight:700;transform:scaleX(0.875);">06:02:38</span><span class="t" style="left:382.60px;top:83.00px;font-size:16.70px;color:#f0f1f4;font-weight:700;transform:scaleX(0.825);">BTCUSD</span><span class="t" style="left:398.59px;top:103.00px;font-size:10.90px;color:#1fa849;transform:scaleX(0.931);">0.71%</span><span class="t" style="left:435.13px;top:103.00px;font-size:10.90px;color:#f2f2f4;font-weight:700;transform:scaleX(0.970);">24,616.5</span><span class="t" style="left:535.69px;top:83.00px;font-size:16.70px;color:#858ba1;transform:scaleX(0.833);">ETHUSD</span><span class="t" style="left:551.53px;top:103.00px;font-size:10.90px;color:#1fa849;transform:scaleX(0.943);">1.49%</span><span class="t" style="left:588.27px;top:103.00px;font-size:10.90px;color:#8f95a8;transform:scaleX(0.966);">2,016.05</span><span class="t" style="left:690.41px;top:83.00px;font-size:16.70px;color:#858ba1;transform:scaleX(0.811);">XRPUSD</span><span class="t" style="left:705.84px;top:103.00px;font-size:10.90px;color:#1fa849;transform:scaleX(0.931);">0.39%</span><span class="t" style="left:742.37px;top:103.00px;font-size:10.90px;color:#8f95a8;transform:scaleX(0.863);">0.3879</span><span class="t" style="left:843.65px;top:83.00px;font-size:16.70px;color:#858ba1;transform:scaleX(0.787);">LTCUSD</span><span class="t" style="left:859.69px;top:103.00px;font-size:10.90px;color:#1fa849;transform:scaleX(0.934);">2.55%</span><span class="t" style="left:896.16px;top:103.00px;font-size:10.90px;color:#8f95a8;transform:scaleX(0.990);">63.95</span><span class="t" style="left:997.55px;top:83.00px;font-size:16.70px;color:#858ba1;transform:scaleX(0.825);">EOSUSD</span><span class="t" style="left:1013.64px;top:103.00px;font-size:10.90px;color:#1fa849;transform:scaleX(0.934);">2.13%</span><span class="t" style="left:1049.85px;top:103.00px;font-size:10.90px;color:#8f95a8;transform:scaleX(0.981);">1.316</span><span class="t" style="left:1152.60px;top:83.00px;font-size:16.70px;color:#858ba1;transform:scaleX(0.857);">ADAUSD</span><span class="t" style="left:1167.59px;top:103.00px;font-size:10.90px;color:#1fa849;transform:scaleX(0.934);">7.96%</span><span class="t" style="left:1204.17px;top:103.00px;font-size:10.90px;color:#8f95a8;transform:scaleX(0.986);">0.583</span><span class="t" style="left:1305.91px;top:83.00px;font-size:16.70px;color:#858ba1;transform:scaleX(0.848);">SOLUSD</span><span class="t" style="left:1321.54px;top:103.00px;font-size:10.90px;color:#1fa849;transform:scaleX(0.934);">2.55%</span><span class="t" style="left:1358.12px;top:103.00px;font-size:10.90px;color:#8f95a8;transform:scaleX(0.988);">50.59</span><span class="t" style="left:1459.38px;top:83.00px;font-size:16.70px;color:#858ba1;transform:scaleX(0.895);">UNIUSD</span><span class="t" style="left:1475.59px;top:103.00px;font-size:10.90px;color:#1fa849;transform:scaleX(0.931);">0.54%</span><span class="t" style="left:1512.02px;top:103.00px;font-size:10.90px;color:#8f95a8;transform:scaleX(0.981);">9.24</span><span class="t" style="left:434.47px;top:136.00px;font-size:14.90px;color:#868ca2;transform:scaleX(0.948);">D</span><span class="t" style="left:538.03px;top:135.00px;font-size:16.70px;color:#868ca2;transform:scaleX(0.866);">Compare</span><span class="t" style="left:644.88px;top:135.00px;font-size:16.85px;color:#868ca2;transform:scaleX(0.902);">Indicators</span><span class="t" style="left:1395.38px;top:135.00px;font-size:15.40px;color:#868ca2;transform:scaleX(0.889);">Save</span><span class="t" style="left:918.94px;top:203.00px;font-size:15.70px;color:#ffffff;font-weight:700;transform:scaleX(0.908);">1</span><span class="t" style="left:1059.89px;top:188.00px;font-size:17.15px;color:#ffffff;font-weight:700;transform:scaleX(1.008);">2</span><span class="t" style="left:428.12px;top:165.00px;font-size:14.05px;color:#868ca2;transform:scaleX(0.896);">72000.0</span><span class="t" style="left:428.12px;top:214.00px;font-size:14.05px;color:#868ca2;transform:scaleX(0.896);">68000.0</span><span class="t" style="left:428.12px;top:263.00px;font-size:14.05px;color:#868ca2;transform:scaleX(0.896);">64000.0</span><span class="t" style="left:428.12px;top:312.00px;font-size:14.05px;color:#868ca2;transform:scaleX(0.896);">60000.0</span><span class="t" style="left:428.25px;top:361.00px;font-size:14.05px;color:#868ca2;transform:scaleX(0.893);">56000.0</span><span class="t" style="left:428.25px;top:411.00px;font-size:14.05px;color:#868ca2;transform:scaleX(0.893);">52000.0</span><span class="t" style="left:428.50px;top:460.00px;font-size:14.05px;color:#868ca2;transform:scaleX(0.888);">48000.0</span><span class="t" style="left:428.50px;top:509.00px;font-size:14.05px;color:#868ca2;transform:scaleX(0.888);">44000.0</span><span class="t" style="left:428.50px;top:558.00px;font-size:14.05px;color:#868ca2;transform:scaleX(0.888);">40000.0</span><span class="t" style="left:533.91px;top:175.00px;font-size:14.25px;color:#868ca2;transform:scaleX(0.922);">O</span><span class="t" style="left:544.73px;top:175.00px;font-size:14.25px;color:#1eb349;transform:scaleX(0.940);">24482.5</span><span class="t" style="left:598.51px;top:175.00px;font-size:14.25px;color:#868ca2;transform:scaleX(1.128);">H</span><span class="t" style="left:609.23px;top:175.00px;font-size:14.25px;color:#1eb349;transform:scaleX(0.940);">24676.5</span><span class="t" style="left:662.68px;top:175.00px;font-size:14.25px;color:#868ca2;transform:scaleX(1.420);">L</span><span class="t" style="left:672.13px;top:175.00px;font-size:14.25px;color:#1eb349;transform:scaleX(0.939);">24385.0</span><span class="t" style="left:725.89px;top:175.00px;font-size:14.25px;color:#868ca2;">C</span><span class="t" style="left:735.83px;top:175.00px;font-size:14.25px;color:#1eb349;transform:scaleX(0.947);">24620.0</span><span class="t" style="left:491.74px;top:200.00px;font-size:13.50px;color:#9498a8;transform:scaleX(0.883);">EMA</span><span class="t" style="left:526.24px;top:200.00px;font-size:13.50px;color:#1818c8;transform:scaleX(0.983);">23826.2047</span><span class="t" style="left:567.23px;top:614.00px;font-size:14.15px;color:#868ca2;transform:scaleX(0.812);">Sep</span><span class="t" style="left:655.31px;top:614.00px;font-size:14.15px;color:#868ca2;transform:scaleX(0.886);">13</span><span class="t" style="left:779.90px;top:614.00px;font-size:14.15px;color:#868ca2;transform:scaleX(0.938);">Oct</span><span class="t" style="left:903.31px;top:614.00px;font-size:14.15px;color:#868ca2;transform:scaleX(0.886);">18</span><span class="t" style="left:998.01px;top:614.00px;font-size:14.15px;color:#868ca2;transform:scaleX(0.874);">Nov</span><span class="t" style="left:1101.31px;top:614.00px;font-size:14.15px;color:#868ca2;transform:scaleX(0.886);">15</span><span class="t" style="left:1211.13px;top:614.00px;font-size:14.15px;color:#868ca2;transform:scaleX(0.874);">Dec</span><span class="t" style="left:1300.31px;top:614.00px;font-size:14.15px;color:#868ca2;transform:scaleX(0.886);">13</span><span class="t" style="left:1426.92px;top:614.00px;font-size:14.15px;color:#9a9fb0;font-weight:700;transform:scaleX(0.927);">2022</span><span class="t" style="left:1548.15px;top:614.00px;font-size:14.15px;color:#868ca2;transform:scaleX(0.913);">17</span><span class="t" style="left:437.10px;top:647.00px;font-size:15.65px;color:#868ca2;font-weight:700;transform:scaleX(0.863);">5y</span><span class="t" style="left:467.20px;top:647.00px;font-size:15.65px;color:#868ca2;font-weight:700;transform:scaleX(0.857);">1y</span><span class="t" style="left:496.50px;top:647.00px;font-size:15.65px;color:#868ca2;font-weight:700;transform:scaleX(0.913);">6m</span><span class="t" style="left:531.40px;top:647.00px;font-size:15.65px;color:#868ca2;font-weight:700;transform:scaleX(0.906);">3m</span><span class="t" style="left:565.87px;top:647.00px;font-size:15.65px;color:#868ca2;font-weight:700;transform:scaleX(0.942);">1m</span><span class="t" style="left:600.82px;top:647.00px;font-size:15.65px;color:#868ca2;font-weight:700;transform:scaleX(0.912);">5d</span><span class="t" style="left:631.63px;top:647.00px;font-size:15.65px;color:#868ca2;font-weight:700;transform:scaleX(0.923);">1d</span><span class="t" style="left:1336.43px;top:648.00px;font-size:14.95px;color:#868ca2;font-weight:700;transform:scaleX(0.959);">01:57:22 (UTC)</span><span class="t" style="left:1472.13px;top:648.00px;font-size:14.95px;color:#868ca2;font-weight:700;transform:scaleX(0.994);">%</span><span class="t" style="left:1500.29px;top:647.00px;font-size:15.40px;color:#868ca2;font-weight:700;transform:scaleX(0.892);">log</span><span class="t" style="left:1535.07px;top:650.00px;font-size:12.50px;color:#3a7ff0;font-weight:700;transform:scaleX(1.157);">auto</span>
<div class="a" style="left:420px;top:546.4px;width:63.7px;height:18.2px;background:#f0421b"></div><span class="t" style="left:427.75px;top:548.00px;font-size:14.25px;color:#ffffff;transform:scaleX(0.889);">40677.5</span><div class="a" style="left:479px;top:555px;width:4.5px;height:1px;background:#fff"></div>
</body></html>
